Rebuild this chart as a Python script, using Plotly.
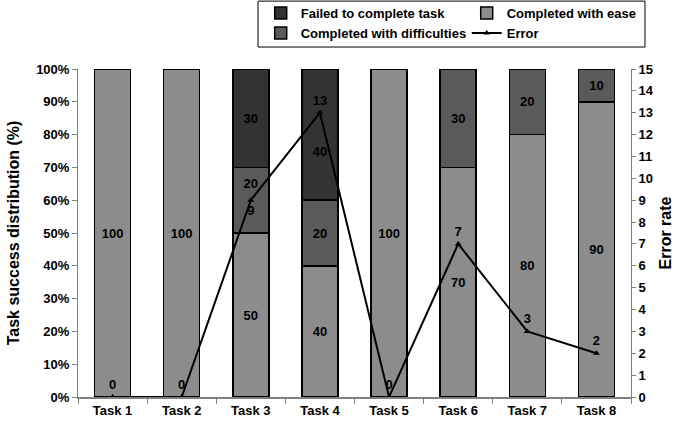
import plotly.graph_objects as go

tasks = ["Task 1", "Task 2", "Task 3", "Task 4", "Task 5", "Task 6", "Task 7", "Task 8"]
ease = [100, 100, 50, 40, 100, 70, 80, 90]
difficulties = [0, 0, 20, 20, 0, 30, 20, 10]
failed = [0, 0, 30, 40, 0, 0, 0, 0]
error = [0, 0, 9, 13, 0, 7, 3, 2]

font = dict(family="Liberation Sans, Arial, sans-serif", size=13, color="black")


def seg_text(vals):
    return ["<b>%d</b>" % v if v else "" for v in vals]


# a few labels sit off-centre in the original to dodge the error line
diff_text = seg_text(difficulties)
diff_text[2] = diff_text[2] + "<br> <br> "
fail_text = seg_text(failed)
fail_text[3] = " <br> <br>" + fail_text[3]

fig = go.Figure()

# stack order bottom -> top: ease, difficulties, failed
fig.add_trace(go.Bar(
    x=tasks, y=ease, name="<b>Completed with ease</b>",
    marker=dict(color="#8c8c8c", line=dict(color="black", width=1.5)),
    text=seg_text(ease), textposition="inside", insidetextanchor="middle",
    textfont=dict(color="black", size=13), legendrank=2,
))
fig.add_trace(go.Bar(
    x=tasks, y=difficulties, name="<b>Completed with difficulties</b>",
    marker=dict(color="#5a5a5a", line=dict(color="black", width=1.5)),
    text=diff_text, textposition="inside", insidetextanchor="middle",
    textfont=dict(color="black", size=13), legendrank=3,
))
fig.add_trace(go.Bar(
    x=tasks, y=failed, name="<b>Failed to complete task</b>",
    marker=dict(color="#333333", line=dict(color="black", width=1.5)),
    text=fail_text, textposition="inside", insidetextanchor="middle",
    textfont=dict(color="black", size=13), legendrank=1,
))

err_pos = ["top center"] * len(error)
err_pos[2] = "bottom center"
fig.add_trace(go.Scatter(
    x=tasks, y=error, name="<b>Error</b>", yaxis="y2",
    mode="lines+markers+text",
    line=dict(color="black", width=2),
    marker=dict(symbol="triangle-up", size=6, color="black"),
    text=["<b>%d</b>" % v for v in error], textposition=err_pos,
    textfont=dict(color="black", size=13), legendrank=4,
))

# legend frame drawn separately so it can be narrower than plotly's own box
fig.add_shape(
    type="rect", xref="paper", yref="paper",
    x0=0.3255, x1=1.0253, y0=1.067, y1=1.207,
    line=dict(color="black", width=1), fillcolor="rgba(0,0,0,0)",
)

fig.update_layout(
    width=680, height=423,
    barmode="stack", bargap=0.48,
    font=font,
    plot_bgcolor="white", paper_bgcolor="white",
    margin=dict(l=78, r=49, t=69, b=26, autoexpand=False),
    showlegend=True,
    legend=dict(
        orientation="h", x=0.3304, xanchor="left", y=1.216, yanchor="top",
        entrywidth=161, borderwidth=0, bgcolor="rgba(0,0,0,0)",
        font=dict(size=13), tracegroupgap=0, traceorder="normal",
    ),
    xaxis=dict(
        showline=True, linecolor="#808080", linewidth=2,
        ticks="outside", tickson="boundaries", tickcolor="#808080", ticklen=5,
        tickprefix="<b>", ticksuffix="</b>", automargin=False,
    ),
    yaxis=dict(
        range=[0, 100], dtick=10, ticksuffix="%</b>", tickprefix="<b>",
        showline=True, linecolor="#808080", linewidth=1,
        ticks="outside", tickcolor="#808080", ticklen=5, showgrid=False,
        title=dict(text="<b>Task success distribution (%)</b>", standoff=12),
        zeroline=False, automargin=False,
    ),
    yaxis2=dict(
        overlaying="y", side="right", range=[0, 15], dtick=1,
        showline=True, linecolor="#808080", linewidth=1,
        ticks="outside", tickcolor="#808080", ticklen=4, showgrid=False,
        tickprefix="<b>", ticksuffix="</b>",
        title=dict(text="<b>Error rate</b>", standoff=6),
        zeroline=False, automargin=False,
    ),
)

fig.write_html(
    "out.html",
    config={"displayModeBar": False},
    post_script="document.body.style.margin = '0';",
)
